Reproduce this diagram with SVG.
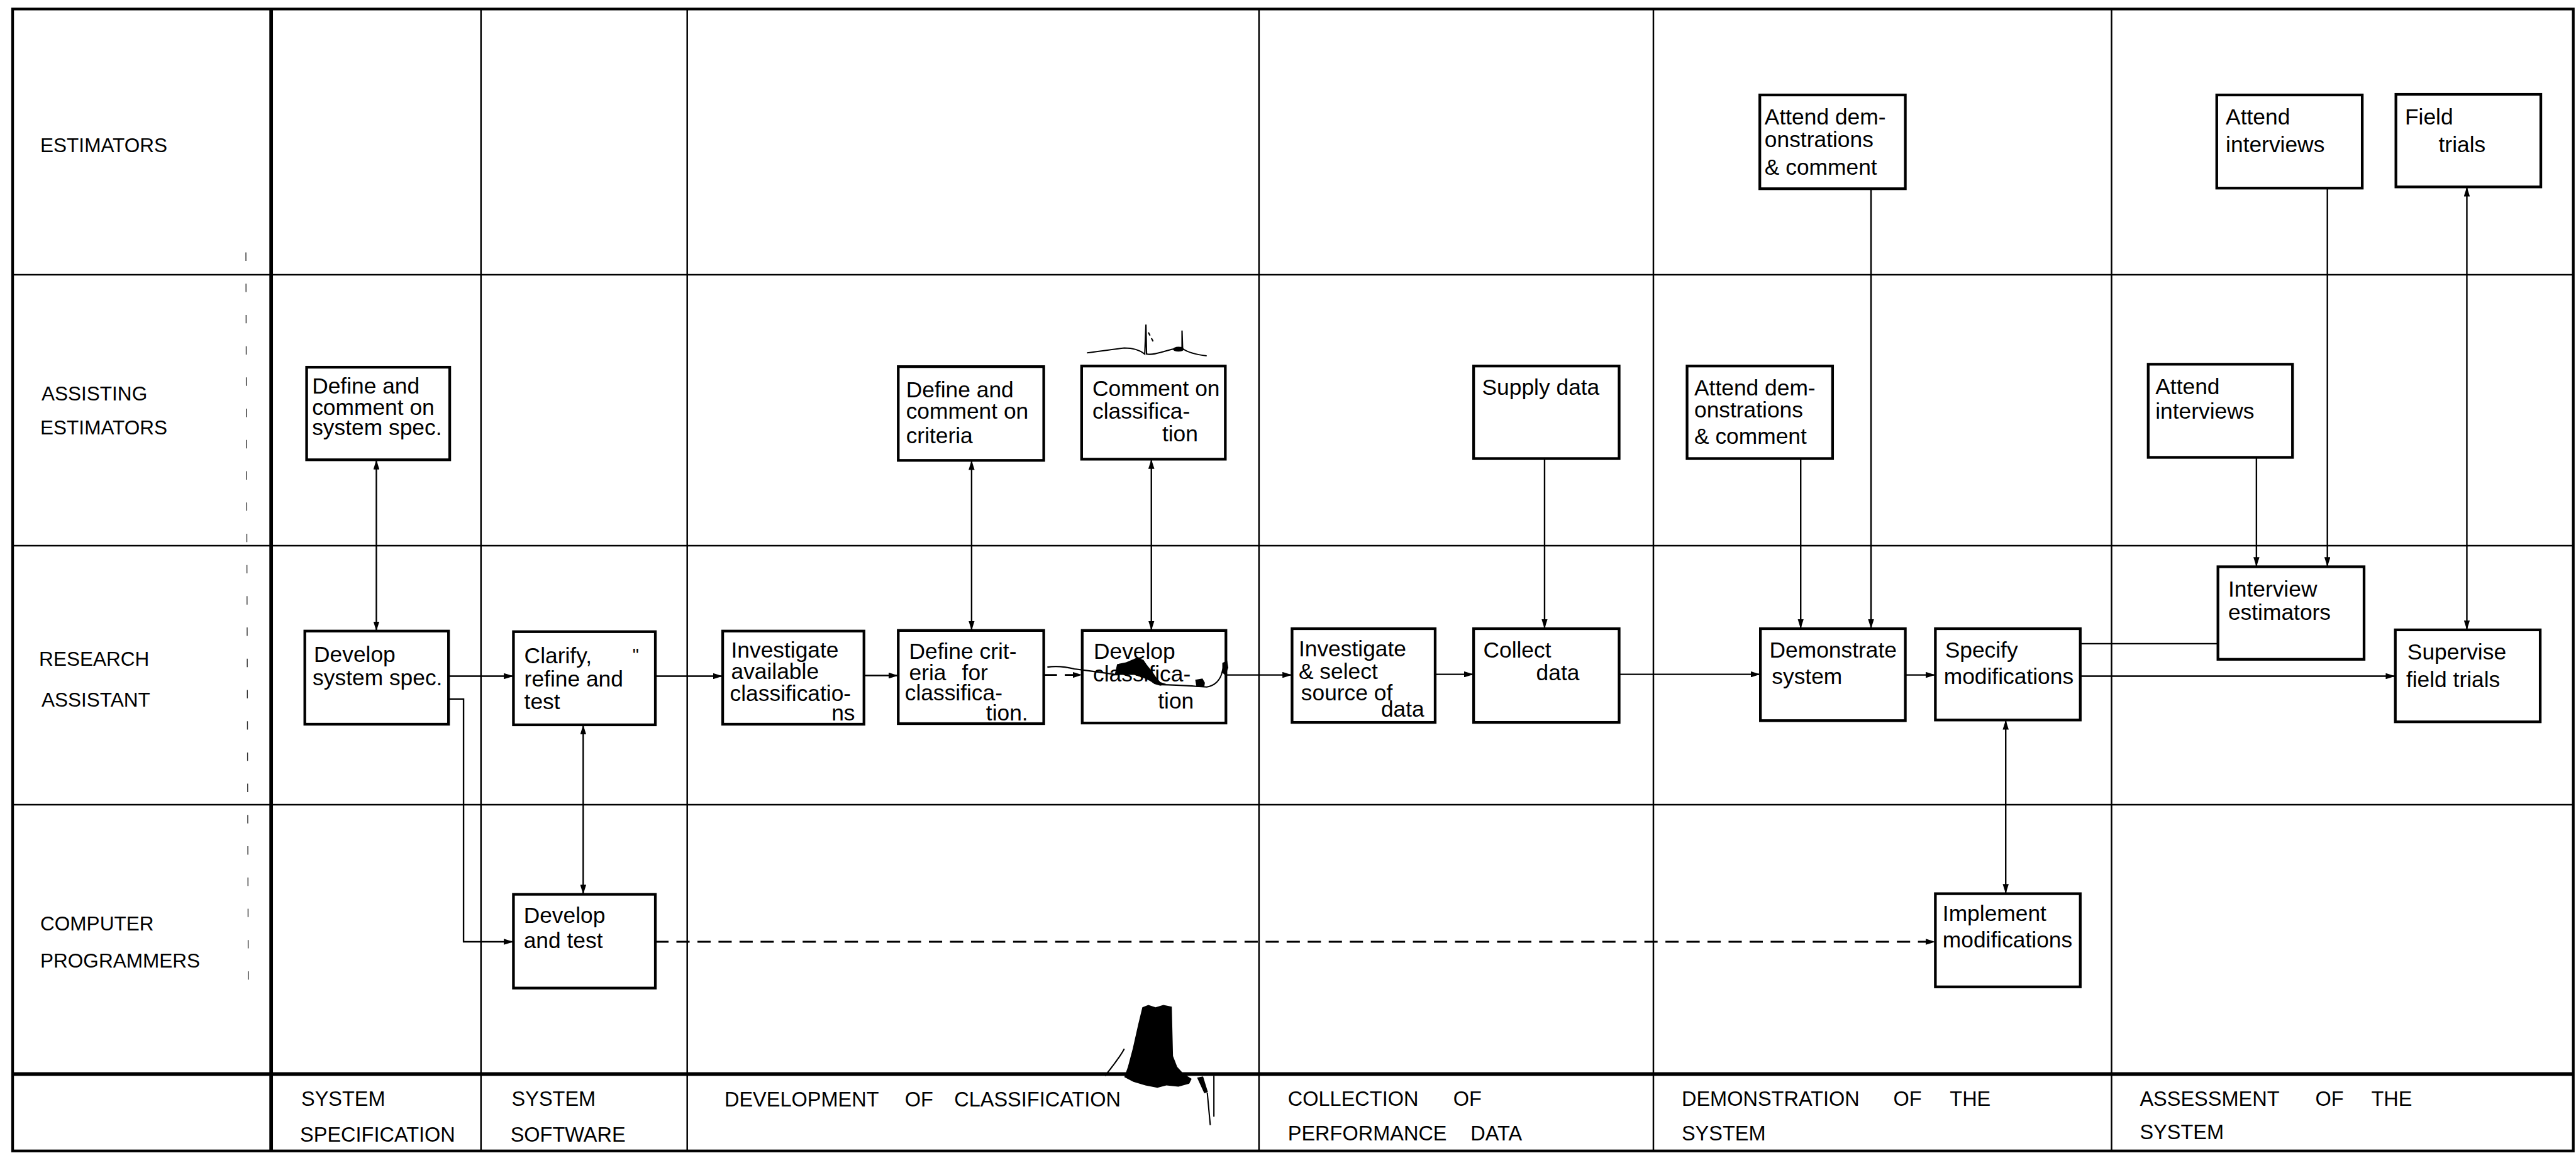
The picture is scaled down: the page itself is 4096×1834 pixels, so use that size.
<svg xmlns="http://www.w3.org/2000/svg" width="4096" height="1834" viewBox="0 0 4096 1834">
<style>
.box{fill:#fff;stroke:#000;stroke-width:4.5}
.t{font-family:"Liberation Sans",Arial,sans-serif;font-size:37px;fill:#000}
.lane{font-family:"Liberation Sans",Arial,sans-serif;font-size:33px;fill:#000}
.phase{font-family:"Liberation Sans",Arial,sans-serif;font-size:34px;fill:#000}
.grid{stroke:#000;stroke-width:2.6;fill:none}
.thick{stroke:#000;stroke-width:6;fill:none}
.c{stroke:#000;stroke-width:2.5;fill:none}
.dash{stroke-width:3;stroke-dasharray:22 13}
.ink{fill:#000;stroke:none}
.scr{stroke:#000;stroke-width:2.2;fill:none}
</style>
<defs>
<marker id="ah" viewBox="0 0 16 10" refX="16" refY="5" markerWidth="16" markerHeight="10" markerUnits="userSpaceOnUse" orient="auto-start-reverse">
<path d="M0,0 L16,5 L0,10 z" fill="#000"/>
</marker>
</defs>
<rect width="4096" height="1834" fill="#fff"/>
<g transform="scale(0.956)">
<g id="grid">
<rect x="21" y="15" width="4259" height="1900" fill="none" stroke="#000" stroke-width="4.5"/>
<line class="thick" x1="451" y1="15" x2="451" y2="1915"/>
<line class="grid" x1="800" y1="15" x2="800" y2="1915"/>
<line class="grid" x1="1143" y1="15" x2="1143" y2="1915"/>
<line class="grid" x1="2094" y1="15" x2="2094" y2="1915"/>
<line class="grid" x1="2750" y1="15" x2="2750" y2="1915"/>
<line class="grid" x1="3512" y1="15" x2="3512" y2="1915"/>
<line class="grid" x1="21" y1="457" x2="4280" y2="457"/>
<line class="grid" x1="21" y1="908" x2="4280" y2="908"/>
<line class="grid" x1="21" y1="1339" x2="4280" y2="1339"/>
<line class="thick" x1="21" y1="1787" x2="4280" y2="1787"/>
<line x1="409" y1="420" x2="413" y2="1640" stroke="#333" stroke-width="1.5" stroke-dasharray="14 38"/>
</g>
<g id="lanes">
<text class="lane" x="67" y="253">ESTIMATORS</text>
<text class="lane"><tspan x="69" y="666">ASSISTING</tspan><tspan x="67" y="723">ESTIMATORS</tspan></text>
<text class="lane"><tspan x="65" y="1108">RESEARCH</tspan><tspan x="69" y="1176">ASSISTANT</tspan></text>
<text class="lane"><tspan x="67" y="1548">COMPUTER</tspan><tspan x="67" y="1610">PROGRAMMERS</tspan></text>
</g>
<g id="phases">
<text class="phase"><tspan x="501" y="1840">SYSTEM</tspan><tspan x="499" y="1900">SPECIFICATION</tspan></text>
<text class="phase"><tspan x="851" y="1840">SYSTEM</tspan><tspan x="849" y="1900">SOFTWARE</tspan></text>
<text class="phase"><tspan x="1205" y="1841">DEVELOPMENT</tspan><tspan x="1505" y="1841">OF</tspan><tspan x="1587" y="1841">CLASSIFICATION</tspan></text>
<text class="phase"><tspan x="2142" y="1840">COLLECTION</tspan><tspan x="2417" y="1840">OF</tspan><tspan x="2142" y="1898">PERFORMANCE</tspan><tspan x="2446" y="1898">DATA</tspan></text>
<text class="phase"><tspan x="2797" y="1840">DEMONSTRATION</tspan><tspan x="3149" y="1840">OF</tspan><tspan x="3243" y="1840">THE</tspan><tspan x="2797" y="1898">SYSTEM</tspan></text>
<text class="phase"><tspan x="3559" y="1840">ASSESSMENT</tspan><tspan x="3851" y="1840">OF</tspan><tspan x="3944" y="1840">THE</tspan><tspan x="3559" y="1895">SYSTEM</tspan></text>
</g>
<g id="connectors">
<line class="c" x1="626" y1="765" x2="626" y2="1050" marker-start="url(#ah)" marker-end="url(#ah)"/>
<line class="c" x1="746" y1="1125" x2="854" y2="1125" marker-end="url(#ah)"/>
<polyline class="c" points="746,1163 771,1163 771,1567 854,1567" marker-end="url(#ah)"/>
<line class="c" x1="970" y1="1206" x2="970" y2="1488" marker-start="url(#ah)" marker-end="url(#ah)"/>
<line class="c" x1="1090" y1="1125" x2="1202" y2="1125" marker-end="url(#ah)"/>
<line class="c" x1="1437" y1="1124" x2="1494" y2="1124" marker-end="url(#ah)"/>
<line class="c" x1="1616" y1="766" x2="1616" y2="1049" marker-start="url(#ah)" marker-end="url(#ah)"/>
<line class="c dash" x1="1736" y1="1123" x2="1800" y2="1123" marker-end="url(#ah)"/>
<line class="c" x1="1915" y1="764" x2="1915" y2="1049" marker-start="url(#ah)" marker-end="url(#ah)"/>
<line class="c" x1="2039" y1="1123" x2="2149" y2="1123" marker-end="url(#ah)"/>
<line class="c" x1="2387" y1="1122" x2="2451" y2="1122" marker-end="url(#ah)"/>
<line class="c" x1="2569" y1="763" x2="2569" y2="1046" marker-end="url(#ah)"/>
<line class="c" x1="2693" y1="1122" x2="2928" y2="1122" marker-end="url(#ah)"/>
<line class="c" x1="2995" y1="763" x2="2995" y2="1046" marker-end="url(#ah)"/>
<line class="c" x1="3112" y1="314" x2="3112" y2="1046" marker-end="url(#ah)"/>
<line class="c" x1="3169" y1="1123" x2="3219" y2="1123" marker-end="url(#ah)"/>
<line class="c" x1="3336" y1="1198" x2="3336" y2="1487" marker-start="url(#ah)" marker-end="url(#ah)"/>
<line class="c" x1="3460" y1="1071" x2="3689" y2="1071"/>
<line class="c" x1="3460" y1="1125" x2="3984" y2="1125" marker-end="url(#ah)"/>
<line class="c" x1="3753" y1="761" x2="3753" y2="943" marker-end="url(#ah)"/>
<line class="c" x1="3871" y1="313" x2="3871" y2="943" marker-end="url(#ah)"/>
<line class="c" x1="4103" y1="311" x2="4103" y2="1048" marker-start="url(#ah)" marker-end="url(#ah)"/>
<line class="c dash" x1="1090" y1="1567" x2="3219" y2="1567" marker-end="url(#ah)"/>
</g>
<g id="n_define_sys"><rect class="box" x="510" y="611" width="238" height="154"/>
<text class="t"><tspan x="519" y="655">Define and</tspan><tspan x="519" y="690">comment on</tspan><tspan x="519" y="724">system spec.</tspan></text></g>
<g id="n_develop_sys"><rect class="box" x="507" y="1050" width="239" height="155"/>
<text class="t"><tspan x="522" y="1102">Develop</tspan><tspan x="520" y="1140">system spec.</tspan></text></g>
<g id="n_clarify"><rect class="box" x="854" y="1051" width="236" height="155"/>
<text class="t"><tspan x="872" y="1104">Clarify,</tspan><tspan x="1052" y="1100" font-size="30">"</tspan><tspan x="872" y="1142">refine and</tspan><tspan x="872" y="1180">test</tspan></text></g>
<g id="n_develop_test"><rect class="box" x="854" y="1488" width="236" height="156"/>
<text class="t"><tspan x="871" y="1536">Develop</tspan><tspan x="871" y="1577">and test</tspan></text></g>
<g id="n_invest_avail"><rect class="box" x="1202" y="1050" width="235" height="155"/>
<text class="t"><tspan x="1216" y="1094">Investigate</tspan><tspan x="1216" y="1130">available</tspan><tspan x="1214" y="1166">classificatio-</tspan><tspan x="1383" y="1199">ns</tspan></text></g>
<g id="n_define_comment_criteria"><rect class="box" x="1494" y="610" width="242" height="156"/>
<text class="t"><tspan x="1507" y="661">Define and</tspan><tspan x="1507" y="697">comment on</tspan><tspan x="1507" y="737">criteria</tspan></text></g>
<g id="n_define_criteria"><rect class="box" x="1494" y="1049" width="242" height="155"/>
<text class="t"><tspan x="1512" y="1096">Define crit-</tspan><tspan x="1512" y="1132">eria</tspan><tspan x="1600" y="1132">for</tspan><tspan x="1505" y="1165">classifica-</tspan><tspan x="1640" y="1199">tion.</tspan></text></g>
<g id="n_comment_class"><rect class="box" x="1799" y="609" width="239" height="155"/>
<text class="t"><tspan x="1817" y="659">Comment on</tspan><tspan x="1817" y="697">classifica-</tspan><tspan x="1933" y="734">tion</tspan></text></g>
<g id="n_develop_class"><rect class="box" x="1800" y="1049" width="239" height="154"/>
<text class="t"><tspan x="1819" y="1096">Develop</tspan><tspan x="1818" y="1134">classifica-</tspan><tspan x="1926" y="1179">tion</tspan></text></g>
<g id="n_invest_select"><rect class="box" x="2149" y="1046" width="238" height="156"/>
<text class="t"><tspan x="2160" y="1092">Investigate</tspan><tspan x="2160" y="1130">&amp; select</tspan><tspan x="2164" y="1165">source of</tspan><tspan x="2297" y="1193">data</tspan></text></g>
<g id="n_supply"><rect class="box" x="2451" y="609" width="242" height="154"/>
<text class="t" x="2465" y="657">Supply data</text></g>
<g id="n_collect"><rect class="box" x="2451" y="1046" width="242" height="156"/>
<text class="t"><tspan x="2467" y="1094">Collect</tspan><tspan x="2555" y="1132">data</tspan></text></g>
<g id="n_attend_demo_assist"><rect class="box" x="2806" y="609" width="242" height="154"/>
<text class="t"><tspan x="2818" y="658">Attend dem-</tspan><tspan x="2818" y="695">onstrations</tspan><tspan x="2818" y="738">&amp; comment</tspan></text></g>
<g id="n_attend_demo_est"><rect class="box" x="2927" y="158" width="242" height="156"/>
<text class="t"><tspan x="2935" y="207">Attend dem-</tspan><tspan x="2935" y="245">onstrations</tspan><tspan x="2935" y="291">&amp; comment</tspan></text></g>
<g id="n_demonstrate"><rect class="box" x="2928" y="1046" width="241" height="153"/>
<text class="t"><tspan x="2943" y="1094">Demonstrate</tspan><tspan x="2947" y="1138">system</tspan></text></g>
<g id="n_specify"><rect class="box" x="3219" y="1046" width="241" height="152"/>
<text class="t"><tspan x="3235" y="1094">Specify</tspan><tspan x="3233" y="1138">modifications</tspan></text></g>
<g id="n_implement"><rect class="box" x="3219" y="1487" width="241" height="155"/>
<text class="t"><tspan x="3231" y="1532">Implement</tspan><tspan x="3231" y="1576">modifications</tspan></text></g>
<g id="n_attend_int_assist"><rect class="box" x="3573" y="606" width="240" height="155"/>
<text class="t"><tspan x="3585" y="656">Attend</tspan><tspan x="3585" y="697">interviews</tspan></text></g>
<g id="n_attend_int_est"><rect class="box" x="3687" y="158" width="242" height="155"/>
<text class="t"><tspan x="3702" y="207">Attend</tspan><tspan x="3702" y="253">interviews</tspan></text></g>
<g id="n_field_trials"><rect class="box" x="3985" y="157" width="241" height="154"/>
<text class="t"><tspan x="4000" y="207">Field</tspan><tspan x="4056" y="253">trials</tspan></text></g>
<g id="n_interview"><rect class="box" x="3689" y="943" width="243" height="154"/>
<text class="t"><tspan x="3706" y="993">Interview</tspan><tspan x="3706" y="1031">estimators</tspan></text></g>
<g id="n_supervise"><rect class="box" x="3984" y="1048" width="241" height="153"/>
<text class="t"><tspan x="4004" y="1097">Supervise</tspan><tspan x="4002" y="1143">field trials</tspan></text></g>
<g id="damage">
<path class="scr" d="M1808,587 C1825,585 1845,582 1870,579 C1885,579 1895,582 1904,589 L1906,540 L1907,589 C1915,591 1925,588 1950,581 L1966,578 L1966,550 L1967,580 C1975,586 1990,590 2007,592"/>
<path class="scr" d="M1910,553 L1920,572" stroke-dasharray="6 5"/>
<ellipse class="ink" cx="1960" cy="581" rx="9" ry="4"/>
<path class="scr" d="M1742,1110 C1760,1107 1775,1110 1787,1113 L1810,1116 L1854,1122 M1930,1139 C1950,1140 1970,1140 1990,1142 L2007,1143 C2020,1141 2030,1132 2033,1117 L2037,1103"/>
<path class="ink" d="M1854,1123 L1858,1105 L1873,1102 L1892,1094 L1902,1098 L1908,1107 L1917,1118 L1923,1127 L1930,1135 L1940,1138 L1930,1141 L1920,1138 L1913,1133 L1900,1127 L1887,1123 Z"/>
<path class="ink" d="M1988,1131 L2000,1129 L2004,1136 L2003,1143 L1990,1143 Z"/>
<path class="ink" d="M2033,1103 L2041,1099 L2043,1111 L2038,1124 L2033,1119 Z"/>
<path class="ink" d="M1900,1676 L1910,1672 L1922,1676 L1935,1672 L1949,1675 L1951,1757 L1958,1775 L1968,1786 L1982,1795 L1978,1803 L1960,1808 L1940,1806 L1925,1810 L1905,1806 L1885,1800 L1870,1792 L1876,1775 L1884,1745 L1893,1705 Z"/>
<path class="ink" d="M1991,1793 L2001,1791 L2009,1817 L2003,1819 Z"/>
<path class="scr" d="M2008,1818 L2013,1872 M2019,1790 L2019,1858 M1838,1790 C1850,1775 1862,1760 1870,1745"/>
</g>
</g>
</svg>
